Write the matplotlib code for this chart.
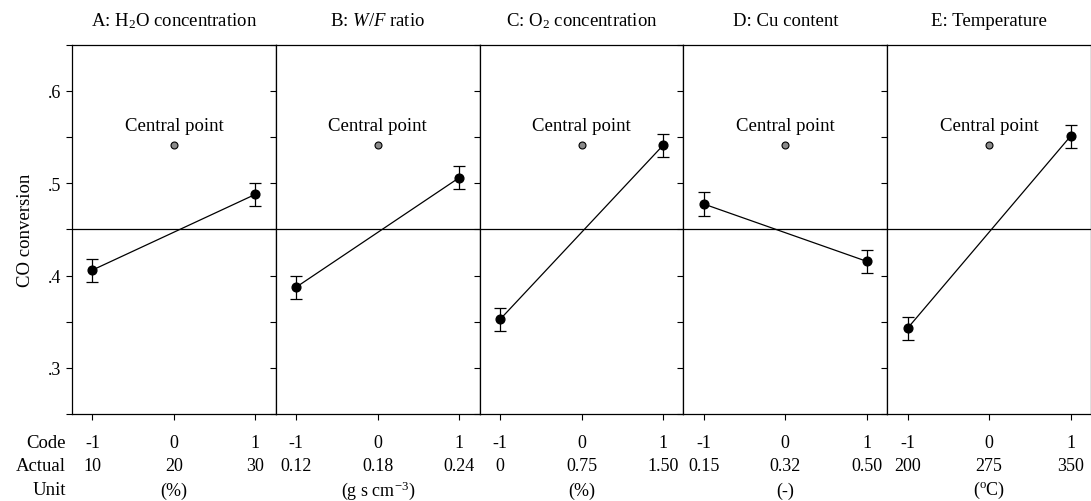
import numpy as np
from matplotlib import pyplot as plt
from matplotlib.ticker import FuncFormatter, MultipleLocator

plt.rcParams['font.family'] = ['Liberation Serif', 'DejaVu Serif']
plt.rcParams['mathtext.fontset'] = 'custom'
plt.rcParams['mathtext.rm'] = 'Liberation Serif'
plt.rcParams['mathtext.it'] = 'Liberation Serif:italic'

# factor panels
titles = ['A: H$_2$O concentration', 'B: $W/F$ ratio', 'C: O$_2$ concentration',
          'D: Cu content', 'E: Temperature']
codes = [-1, 0, 1]
actual = [['10', '20', '30'],
          ['0.12', '0.18', '0.24'],
          ['0', '0.75', '1.50'],
          ['0.15', '0.32', '0.50'],
          ['200', '275', '350']]
units = ['(%)', '(g s cm$^{-3}$)', '(%)', '(-)', '($^{\\mathrm{o}}$C)']

# mean CO conversion at low (-1) and high (+1) level
low = [0.406, 0.3875, 0.3525, 0.4775, 0.343]
high = [0.488, 0.506, 0.541, 0.4154, 0.551]
err = [0.0125, 0.0125, 0.0125, 0.0125, 0.0125]
central = 0.541
grand_mean = 0.45

fig, axes = plt.subplots(1, 5, figsize=(10.91, 5.02), dpi=100, sharey=True)
fig.subplots_adjust(left=0.066, right=1.0, top=0.909, bottom=0.173, wspace=0)

row_y = [-0.076, -0.14, -0.205]

for i, ax in enumerate(axes):
    ax.axhline(grand_mean, color='black', lw=0.9)
    ax.plot([-1, 1], [low[i], high[i]], color='black', lw=0.9)
    ax.errorbar([-1, 1], [low[i], high[i]], yerr=[err[i], err[i]], fmt='o',
                color='black', ms=6.3, capsize=4.3, elinewidth=0.9, capthick=0.9)
    ax.plot([0], [central], 'o', ms=5, mfc='#8a8a8a', mec='black', mew=0.8)
    ax.text(0, central + 0.012, 'Central point', ha='center', va='bottom', fontsize=13.5)
    ax.set_xlim(-1.25, 1.25)
    ax.set_ylim(0.25, 0.65)
    ax.set_title(titles[i], fontsize=13.5, pad=14)
    ax.set_xticks(codes)
    ax.set_xticklabels([])
    ax.tick_params(axis='x', direction='out', length=4, width=0.8)
    ax.yaxis.set_major_locator(MultipleLocator(0.1))
    ax.yaxis.set_minor_locator(MultipleLocator(0.05))
    ax.tick_params(axis='y', which='both', direction='out', length=4, width=0.8,
                   labelsize=13)
    for sp in ax.spines.values():
        sp.set_linewidth(0.9)
    tr = ax.get_xaxis_transform()
    for j, c in enumerate(codes):
        ax.text(c, row_y[0], str(c), transform=tr, ha='center', va='center', fontsize=13)
        ax.text(c, row_y[1], actual[i][j], transform=tr, ha='center', va='center', fontsize=13)
    ax.text(0, row_y[2], units[i], transform=tr, ha='center', va='center', fontsize=13)

axes[0].yaxis.set_major_formatter(FuncFormatter(lambda v, p: ('%.1f' % v).lstrip('0')))
axes[0].set_ylabel('CO conversion', fontsize=13.5, labelpad=10)

for lab, y in zip(['Code', 'Actual', 'Unit'], row_y):
    axes[0].text(-0.03, y, lab, transform=axes[0].transAxes, ha='right', va='center',
                 fontsize=13.5)

plt.savefig('out.png', dpi=100)
